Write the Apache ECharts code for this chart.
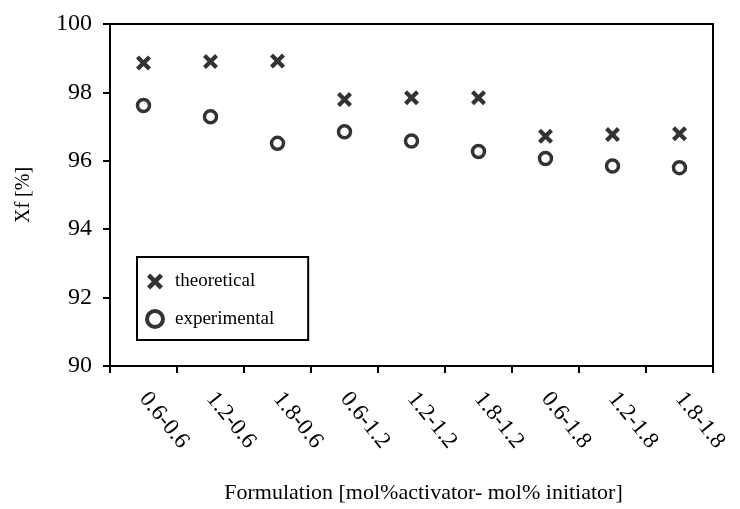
<!DOCTYPE html>
<html><head><meta charset="utf-8">
<script src="https://cdn.jsdelivr.net/npm/echarts@6/dist/echarts.min.js"></script>
<style>html,body{margin:0;padding:0;background:#fff}#c{width:740px;height:509px}</style>
</head><body><div id="c"></div>
<script>
const categories = ["0.6-0.6","1.2-0.6","1.8-0.6","0.6-1.2","1.2-1.2","1.8-1.2","0.6-1.8","1.2-1.8","1.8-1.8"];
const theoretical = [98.86, 98.9, 98.92, 97.79, 97.84, 97.84, 96.72, 96.77, 96.79];
const experimental = [97.62, 97.29, 96.51, 96.85, 96.58, 96.27, 96.07, 95.85, 95.8];
const yTicks = {min: 90, max: 100, interval: 2};

const F = '"Liberation Serif","DejaVu Serif",serif';
const crossPath = 'path://M2,0 L5,3 L8,0 L10,2 L7,5 L10,8 L8,10 L5,7 L2,10 L0,8 L3,5 L0,2 Z';
const chart = echarts.init(document.getElementById('c'));
chart.setOption({
  animation: false,
  backgroundColor: '#fff',
  grid: {left: 110, top: 24, right: 27, bottom: 141, show: true, borderColor: '#000', borderWidth: 2, backgroundColor: 'transparent'},
  legend: {
    orient: 'vertical', left: 137, top: 257,
    padding: [15, 34, 11, 8], itemGap: 18,
    borderColor: '#000', borderWidth: 2, backgroundColor: '#fff',
    itemWidth: 16, itemHeight: 16,
    textStyle: {fontFamily: F, fontSize: 19, color: '#000', padding: [0, 0, 0, 7]},
    data: [
      {name: 'theoretical', icon: crossPath},
      {name: 'experimental', icon: 'circle', itemStyle: {color: '#fff', borderColor: '#000', borderWidth: 4}}
    ]
  },
  xAxis: {
    type: 'category', data: categories,
    name: 'Formulation [mol%activator- mol% initiator]',
    nameLocation: 'middle', nameGap: 116,
    nameTextStyle: {fontFamily: F, fontSize: 22, color: '#000', padding: [0, 0, 0, 24]},
    axisLine: {lineStyle: {color: '#000', width: 2}},
    axisTick: {show: true, length: 7, lineStyle: {color: '#000', width: 2}},
    axisLabel: {rotate: -51, margin: 29, fontFamily: F, fontSize: 23, color: '#000', interval: 0}
  },
  yAxis: {
    type: 'value', min: yTicks.min, max: yTicks.max, interval: yTicks.interval,
    name: 'Xf [%]', nameLocation: 'middle', nameGap: 76, nameRotate: 90,
    nameTextStyle: {fontFamily: F, fontSize: 20, color: '#000'},
    splitLine: {show: false},
    axisLine: {show: true, lineStyle: {color: '#000', width: 2}},
    axisTick: {show: true, length: 7, lineStyle: {color: '#000', width: 2}},
    axisLabel: {margin: 18, fontFamily: F, fontSize: 24, color: '#000'}
  },
  series: [
    {name: 'theoretical', type: 'scatter', data: theoretical, symbol: crossPath, symbolSize: 15,
     itemStyle: {color: '#000'}},
    {name: 'experimental', type: 'scatter', data: experimental, symbol: 'circle', symbolSize: 12,
     itemStyle: {color: '#fff', borderColor: '#000', borderWidth: 3.5}}
  ]
});
</script></body></html>
